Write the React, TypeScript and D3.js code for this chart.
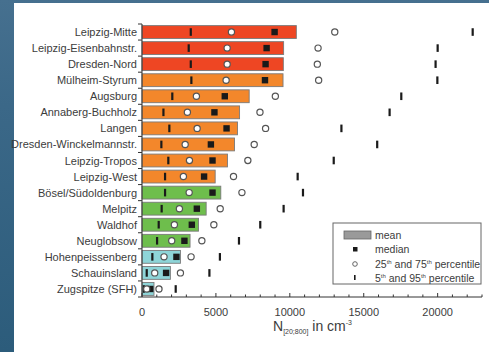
import React from "react";
import * as d3 from "d3";

const stations = [
  "Leipzig-Mitte",
  "Leipzig-Eisenbahnstr.",
  "Dresden-Nord",
  "Mülheim-Styrum",
  "Augsburg",
  "Annaberg-Buchholz",
  "Langen",
  "Dresden-Winckelmannstr.",
  "Leipzig-Tropos",
  "Leipzig-West",
  "Bösel/Südoldenburg",
  "Melpitz",
  "Waldhof",
  "Neuglobsow",
  "Hohenpeissenberg",
  "Schauinsland",
  "Zugspitze (SFH)",
];
const groups = ["red", "red", "red", "orange", "orange", "orange", "orange", "orange", "orange", "orange", "green", "green", "green", "green", "cyan", "cyan", "cyan"];
const meanVals = [10440, 9580, 9560, 9540, 7250, 6600, 6460, 6260, 5780, 4950, 5330, 4340, 3820, 3250, 2600, 1920, 810];
const medianVals = [8970, 8430, 8360, 8320, 5600, 4900, 5720, 4660, 4770, 4200, 4770, 3710, 3370, 2870, 2330, 1630, 560];
const p25Vals = [6050, 5760, 5760, 5690, 3680, 3070, 3730, 2920, 3210, 2800, 3190, 2530, 2190, 2010, 1490, 860, 320];
const p75Vals = [13040, 11910, 11860, 11950, 9020, 7980, 8360, 7590, 7160, 6190, 6760, 5290, 4860, 4050, 3320, 2600, 1150];
const p5Vals = [3300, 3160, 3300, 3340, 2050, 1450, 1850, 1310, 1780, 1560, 1560, 1330, 1130, 1020, 700, 320, 120];
const p95Vals = [22370, 20000, 19860, 19980, 17540, 16750, 13490, 15910, 12970, 10530, 10890, 9580, 8000, 6560, 5270, 4560, 2280];
const xMajorTicks = [0, 5000, 10000, 15000, 20000];

const colorMap: Record<string, string> = {
  red: "#EE4623",
  orange: "#F3872B",
  green: "#6EBE4C",
  cyan: "#8ED5D8",
};

export default function App() {
  const W = 489;
  const H = 352;
  const x = d3.scaleLinear().domain([0, 23000]).range([142, 482]);
  const y = d3.scaleBand<string>().domain(stations).range([24, 297]).paddingInner(0.2).paddingOuter(0.1);
  const minorTicks = d3.range(0, 23001, 1000);
  const font = "'Liberation Sans', Arial, sans-serif";
  const txt = "#3c3c3c";
  const bandEdges = d3.range(0, stations.length + 1).map((i) => 24 + i * (273 / stations.length));

  return (
    <svg width={W} height={H} style={{ position: "absolute", left: 0, top: 0 }} fontFamily={font}>
      <defs>
        <linearGradient id="bg" x1="0" y1="0" x2="0" y2="1">
          <stop offset="0" stopColor="#46708f" />
          <stop offset="0.3" stopColor="#3b6888" />
          <stop offset="1" stopColor="#2c5c7b" />
        </linearGradient>
      </defs>
      <rect x={0} y={0} width={W} height={H} fill="url(#bg)" />
      <rect x={14} y={3} width={W - 14} height={H - 3} fill="#ffffff" />

      {/* y labels */}
      {stations.map((s) => (
        <text key={s} x={137} y={(y(s) as number) + y.bandwidth() / 2 + 4} textAnchor="end" fontSize={11} fill={txt}>
          {s}
        </text>
      ))}

      {/* bars */}
      {stations.map((s, i) => (
        <rect
          key={"b" + s}
          x={x(0)}
          y={y(s) as number}
          width={x(meanVals[i]) - x(0)}
          height={y.bandwidth()}
          fill={colorMap[groups[i]]}
          stroke="#7a7a7a"
          strokeWidth={0.9}
        />
      ))}

      {/* markers */}
      {stations.map((s, i) => {
        const cy = (y(s) as number) + y.bandwidth() / 2;
        return (
          <g key={"m" + s}>
            {[p5Vals[i], p95Vals[i]].map((v, k) => (
              <rect key={"t" + k} x={x(v) - 1.1} y={cy - 3.8} width={2.2} height={7.6} fill="#1a1a1a" />
            ))}
            <rect x={x(medianVals[i]) - 3.2} y={cy - 3.2} width={6.4} height={6.4} fill="#1a1a1a" />
            {[p25Vals[i], p75Vals[i]].map((v, k) => (
              <circle key={"c" + k} cx={x(v)} cy={cy} r={3.1} fill="#ffffff" stroke="#555" strokeWidth={1.2} />
            ))}
          </g>
        );
      })}

      {/* y axis */}
      <line x1={142} x2={142} y1={24} y2={297} stroke="#333" strokeWidth={1} />
      {bandEdges.map((e, i) => (
        <line key={"yt" + i} x1={138} x2={142} y1={e} y2={e} stroke="#333" strokeWidth={1} />
      ))}

      {/* x axis */}
      <line x1={142} x2={482} y1={297} y2={297} stroke="#333" strokeWidth={1} />
      {minorTicks.map((t) => (
        <line
          key={"xt" + t}
          x1={x(t)}
          x2={x(t)}
          y1={297}
          y2={t % 5000 === 0 ? 293 : 294.5}
          stroke="#333"
          strokeWidth={1}
        />
      ))}
      {xMajorTicks.map((t) => (
        <text key={"xl" + t} x={x(t)} y={315.5} textAnchor="middle" fontSize={11} fill={txt}>
          {t}
        </text>
      ))}

      {/* x title */}
      <text x={273} y={331} fontSize={14} fill={txt}>
        N
        <tspan fontSize={7} dy={3}>[20;800]</tspan>
        <tspan fontSize={14} dy={-3}> in cm</tspan>
        <tspan fontSize={7} dy={-6}>-3</tspan>
      </text>

      {/* legend */}
      <rect x={333} y={223} width={148} height={61} fill="#ffffff" stroke="#666" strokeWidth={1} />
      <rect x={344} y={231} width={27} height={8} fill="#9a9a9a" stroke="#666" strokeWidth={0.8} />
      <text x={375} y={239} fontSize={10.5} fill={txt}>mean</text>
      <rect x={353} y={247} width={4.5} height={4.5} fill="#1a1a1a" />
      <text x={375} y={253} fontSize={10.5} fill={txt}>median</text>
      <circle cx={355} cy={264} r={2.3} fill="#fff" stroke="#555" strokeWidth={0.9} />
      <text x={375} y={267.5} fontSize={10.5} fill={txt}>
        25<tspan fontSize={6} dy={-4}>th</tspan>
        <tspan dy={4}> and 75</tspan>
        <tspan fontSize={6} dy={-4}>th</tspan>
        <tspan dy={4}> percentile</tspan>
      </text>
      <rect x={354} y={275} width={1.6} height={5} fill="#1a1a1a" />
      <text x={375} y={281.5} fontSize={10.5} fill={txt}>
        5<tspan fontSize={6} dy={-4}>th</tspan>
        <tspan dy={4}> and 95</tspan>
        <tspan fontSize={6} dy={-4}>th</tspan>
        <tspan dy={4}> percentile</tspan>
      </text>
    </svg>
  );
}
